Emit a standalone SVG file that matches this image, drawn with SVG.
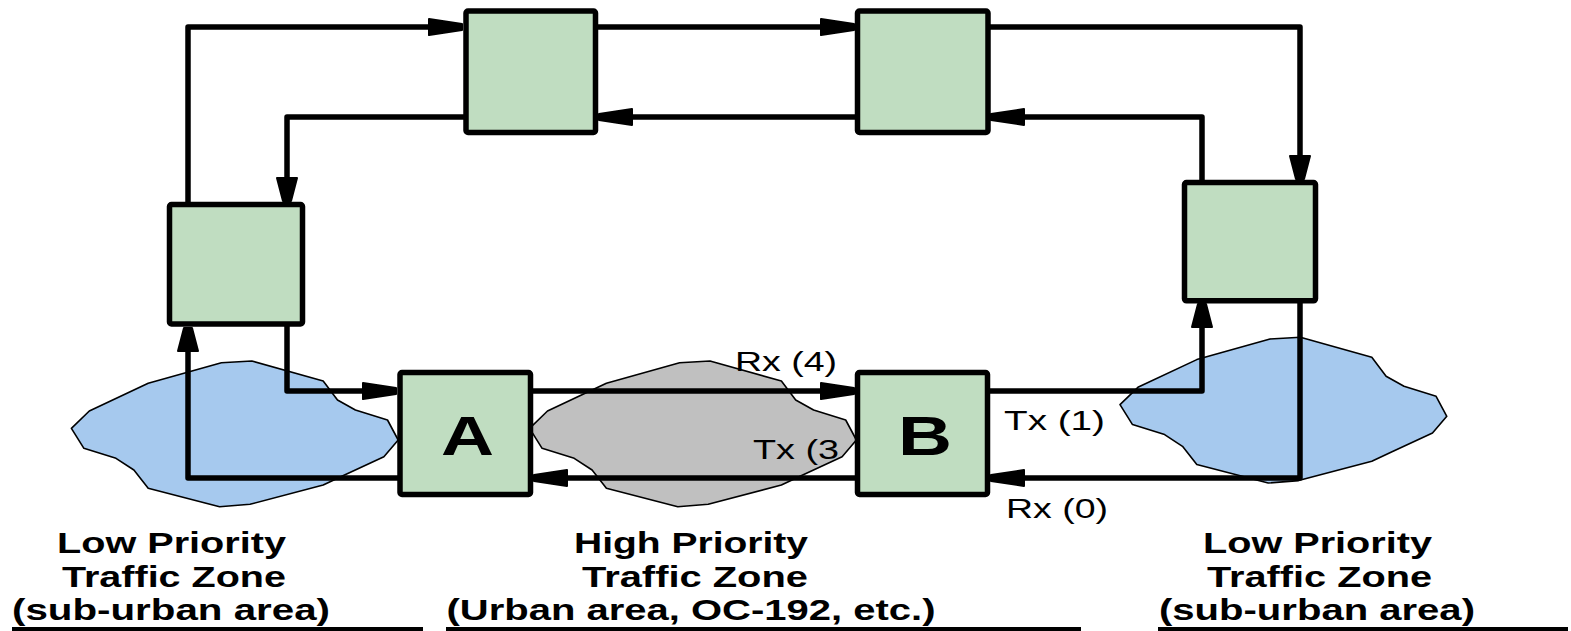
<svg xmlns="http://www.w3.org/2000/svg" xmlns:xlink="http://www.w3.org/1999/xlink" width="1571" height="631" viewBox="0 0 1571 631">
<style>
.box{fill:#c0ddc1;stroke:#000;stroke-width:5.5;}
.conn{fill:none;stroke:#000;stroke-width:5.5;stroke-linejoin:round;}
.cloudB{fill:#a6c9ee;stroke:#000;stroke-width:1.6;stroke-linejoin:round;}
.cloudG{fill:#c0c0c0;stroke:#000;stroke-width:1.6;stroke-linejoin:round;}
.lbl{font-family:"Liberation Sans",Arial,sans-serif;font-size:28px;fill:#000;}
.big{font-family:"Liberation Sans",Arial,sans-serif;font-size:56px;font-weight:bold;fill:#000;}
.zone{font-family:"Liberation Sans",Arial,sans-serif;font-size:30px;font-weight:bold;fill:#000;}
.ul{stroke:#000;stroke-width:4;}
</style>
<defs>
<marker id="ah" markerUnits="userSpaceOnUse" markerWidth="40" markerHeight="24" refX="35" refY="0" orient="auto" overflow="visible">
<path d="M1,-8 L34,-3 L34,3 L1,8 Z" fill="#000" stroke="#000" stroke-width="2" stroke-linejoin="round"/>
</marker>
<marker id="av" markerUnits="userSpaceOnUse" markerWidth="30" markerHeight="26" refX="25" refY="0" orient="auto" overflow="visible">
<path d="M1,-10 L24,-4 L24,4 L1,10 Z" fill="#000" stroke="#000" stroke-width="2" stroke-linejoin="round"/>
</marker>
<path id="cloud" d="M71.4,428.3 L89.3,411 L148.2,383.3 L221.4,362.7 L251.8,361 L323.2,381 L337.5,400 L355.4,410 L387.5,420 L398.2,440 L383.9,456.7 L342.9,475.7 L323.2,485 L250,504.3 L219.6,506.7 L148.2,488.3 L133.9,470 L116,458.3 L83.9,448.3 Z"/>
</defs>

<g id="zones">
<use xlink:href="#cloud" class="cloudB"/>
<use xlink:href="#cloud" class="cloudG" transform="translate(458.2,0)"/>
<use xlink:href="#cloud" class="cloudB" transform="translate(1048.6,-23.7)"/>
</g>

<g id="connectors">
<path class="conn" d="M188,204 V27 H463" marker-end="url(#ah)"/>
<path class="conn" d="M466,117 H287 V202" marker-end="url(#av)"/>
<path class="conn" d="M596,27 H855" marker-end="url(#ah)"/>
<path class="conn" d="M858,117 H598" marker-end="url(#ah)"/>
<path class="conn" d="M988,27 H1300 V180" marker-end="url(#av)"/>
<path class="conn" d="M1202,183 V117 H990" marker-end="url(#ah)"/>
<path class="conn" d="M1300,300 V478 H990" marker-end="url(#ah)"/>
<path class="conn" d="M988,391 H1202 V303" marker-end="url(#av)"/>
<path class="conn" d="M530,391 H855" marker-end="url(#ah)"/>
<path class="conn" d="M858,478 H533" marker-end="url(#ah)"/>
<path class="conn" d="M400,478 H188 V327" marker-end="url(#av)"/>
<path class="conn" d="M287,324 V391 H397" marker-end="url(#ah)"/>
</g>

<g id="node-top-left"><rect class="box" x="466" y="11" width="129.5" height="121.5" rx="2"/></g>
<g id="node-top-right"><rect class="box" x="857.5" y="11" width="130.5" height="121.5" rx="2"/></g>
<g id="node-left"><rect class="box" x="169.5" y="204.5" width="133" height="119.5" rx="2"/></g>
<g id="node-right"><rect class="box" x="1184.5" y="182.5" width="131" height="118.3" rx="2"/></g>
<g id="node-A">
<rect class="box" x="400" y="372.5" width="130.5" height="122" rx="2"/>
<text class="big" x="441" y="454.5" textLength="53" lengthAdjust="spacingAndGlyphs">A</text>
</g>
<g id="node-B">
<rect class="box" x="857.5" y="372.5" width="130" height="122" rx="2"/>
<text class="big" x="898" y="454.5" textLength="54" lengthAdjust="spacingAndGlyphs">B</text>
</g>

<g id="port-labels">
<text class="lbl" x="735" y="370.5" textLength="102" lengthAdjust="spacingAndGlyphs">Rx (4)</text>
<text class="lbl" x="753" y="459.3" textLength="86" lengthAdjust="spacingAndGlyphs">Tx (3</text>
<text class="lbl" x="1004" y="430" textLength="101" lengthAdjust="spacingAndGlyphs">Tx (1)</text>
<text class="lbl" x="1006" y="517.7" textLength="102" lengthAdjust="spacingAndGlyphs">Rx (0)</text>
</g>

<g id="zone-labels">
<text class="zone" x="57" y="553" textLength="229" lengthAdjust="spacingAndGlyphs">Low Priority</text>
<text class="zone" x="62" y="587" textLength="224" lengthAdjust="spacingAndGlyphs">Traffic Zone</text>
<text class="zone" x="12" y="620" textLength="318" lengthAdjust="spacingAndGlyphs">(sub-urban area)</text>
<line class="ul" x1="12" y1="629" x2="423" y2="629"/>

<text class="zone" x="574" y="553" textLength="234" lengthAdjust="spacingAndGlyphs">High Priority</text>
<text class="zone" x="582" y="587" textLength="226" lengthAdjust="spacingAndGlyphs">Traffic Zone</text>
<text class="zone" x="446.5" y="620" textLength="489" lengthAdjust="spacingAndGlyphs">(Urban area, OC-192, etc.)</text>
<line class="ul" x1="446" y1="629" x2="1081" y2="629"/>

<text class="zone" x="1203" y="553" textLength="229" lengthAdjust="spacingAndGlyphs">Low Priority</text>
<text class="zone" x="1207" y="587" textLength="225" lengthAdjust="spacingAndGlyphs">Traffic Zone</text>
<text class="zone" x="1159" y="620" textLength="316" lengthAdjust="spacingAndGlyphs">(sub-urban area)</text>
<line class="ul" x1="1158" y1="629" x2="1568" y2="629"/>
</g>
</svg>
